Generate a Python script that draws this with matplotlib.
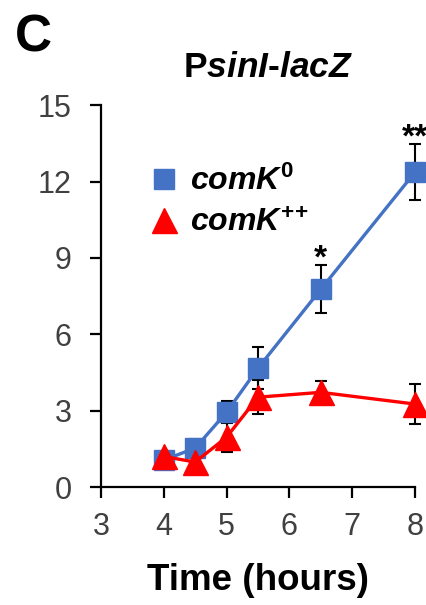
import matplotlib
matplotlib.use('Agg')
import matplotlib.pyplot as plt
from matplotlib.lines import Line2D

plt.rcParams['font.family'] = ['Liberation Sans', 'DejaVu Sans']
plt.rcParams['mathtext.fontset'] = 'custom'
plt.rcParams['mathtext.it'] = 'Liberation Sans:italic:bold'
plt.rcParams['mathtext.rm'] = 'Liberation Sans:bold'
plt.rcParams['mathtext.bf'] = 'Liberation Sans:bold'

# data
hours = [4, 4.5, 5, 5.5, 6.5, 8]
comk0 = [1.06, 1.53, 2.94, 4.67, 7.77, 12.37]
comk0_err = [0.0, 0.35, 0.44, 0.83, 0.95, 1.1]
comkpp = [1.2, 0.98, 1.96, 3.53, 3.72, 3.26]
comkpp_err = [0.0, 0.0, 0.6, 0.68, 0.45, 0.8]
stars = {6.5: '*', 8: '**'}

fig = plt.figure(figsize=(4.27, 6.05), dpi=100)
ax = fig.add_axes([0.2365, 0.195, 0.9719 - 0.2365, 0.826 - 0.195])

blue = '#4472C4'
red = '#FF0000'

ax.errorbar(hours, comk0, yerr=comk0_err, fmt='none', ecolor='black',
            elinewidth=1.5, capsize=4.5, capthick=1.5, zorder=2, clip_on=False)
ax.errorbar(hours, comkpp, yerr=comkpp_err, fmt='none', ecolor='black',
            elinewidth=1.5, capsize=4.5, capthick=1.5, zorder=2, clip_on=False)

ax.plot(hours, comk0, color=blue, linewidth=2.4, marker='s', markersize=15,
        markerfacecolor=blue, markeredgecolor=blue, zorder=3, clip_on=False)
ax.plot(hours, comkpp, color=red, linewidth=2.4, marker='^', markersize=18,
        markerfacecolor=red, markeredgecolor=red, zorder=4, clip_on=False)

# significance marks above the comK0 error bars
for x, s in stars.items():
    i = hours.index(x)
    ax.annotate(s, (x, comk0[i] + comk0_err[i]), xytext=(0, -2),
                textcoords='offset points', ha='center', va='baseline',
                fontsize=24, fontweight='bold', annotation_clip=False)

ax.set_xlim(3, 8)
ax.set_ylim(0, 15)
ax.set_xticks([3, 4, 5, 6, 7, 8])
ax.set_yticks([0, 3, 6, 9, 12, 15])

for side in ['top', 'right']:
    ax.spines[side].set_visible(False)
for side in ['left', 'bottom']:
    ax.spines[side].set_linewidth(1.6)

ax.tick_params(axis='both', direction='out', length=8, width=1.6,
               labelsize=22, labelcolor='#404040')
ax.tick_params(axis='x', pad=10)
ax.tick_params(axis='y', pad=13)

ax.set_xlabel('Time (hours)', fontsize=26.5, fontweight='bold', labelpad=15)

# legend shows markers only
handles = [
    Line2D([], [], linestyle='none', marker='s', markersize=15,
           color=blue),
    Line2D([], [], linestyle='none', marker='^', markersize=18,
           color=red),
]
labels = [r'$\mathit{comK}^{0}$', r'$\mathit{comK}^{+\!+}$']
ax.legend(handles, labels, loc='upper left', bbox_to_anchor=(0.115, 0.875),
          frameon=False, fontsize=23, handlelength=0.9, handletextpad=0.35,
          labelspacing=0.35, borderaxespad=0)

fig.text(0.628, 0.888, r'P$\mathit{sinI}$-$\mathit{lacZ}$', ha='center',
         va='center', fontsize=25.5, fontweight='bold')
fig.text(0.035, 0.938, 'C', ha='left', va='center', fontsize=37,
         fontweight='bold')

fig.savefig('out.png', dpi=100)
